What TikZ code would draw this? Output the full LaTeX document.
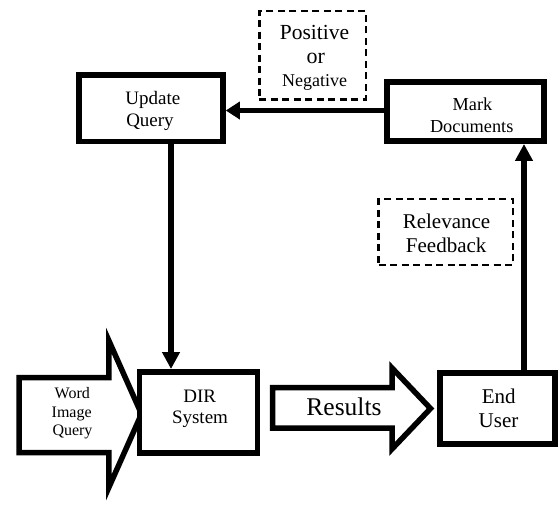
\documentclass[tikz,border=0pt]{standalone}
\usepackage{fontspec}
\setmainfont{Liberation Serif}
\usetikzlibrary{arrows.meta}
\begin{document}
\begin{tikzpicture}[x=1pt,y=-1pt,
  box/.style={draw, line width=5.5pt, fill=white, inner sep=0pt},
  hint/.style={draw, line width=2.5pt, dash pattern=on 7pt off 4.5pt, inner sep=0pt},
  txt/.style={anchor=base, inner sep=0pt},
  flow/.style={line width=5.5pt, -{Triangle[length=17pt,width=17pt]}},
  flowh/.style={line width=5.5pt, -{Triangle[length=14pt,width=17pt]}},
  block/.style={draw, line width=5.5pt, fill=white, line join=miter, miter limit=10},
]
\useasboundingbox (0,0) rectangle (559,504);

% input block arrow (its point tucks under the DIR box)
\draw[block] (19,377.5) -- (108.8,377.5) -- (108.8,340.5) -- (141.5,414)
  -- (108.8,487.5) -- (108.8,452.5) -- (19,452.5) -- cycle;
% results block arrow
\draw[block] (272.5,387.5) -- (392,387.5) -- (392,368) -- (430.5,408.5)
  -- (392,449) -- (392,428) -- (272.5,428) -- cycle;

% process boxes
\node[box, minimum width=144.25pt, minimum height=66.5pt] (uq) at (150.9,108) {};
\node[box, minimum width=157.25pt, minimum height=59.25pt] (md) at (465.4,111.6) {};
\node[box, minimum width=117.75pt, minimum height=81.25pt] (dir) at (198.4,412.4) {};
\node[box, minimum width=115pt, minimum height=71.25pt] (eu) at (497.5,408.4) {};

% annotation boxes
\node[hint, minimum width=106.3pt, minimum height=88.5pt] (pn) at (312.6,55) {};
\node[hint, minimum width=134.3pt, minimum height=65.8pt] (rf) at (445.8,232.1) {};

% labels
\node[txt, font=\fontsize{19}{22}\selectfont] (uq1) at (152.8,104) {Update};
\node[txt, font=\fontsize{19}{22}\selectfont] (uq2) at (150,126) {Query};
\node[txt, font=\fontsize{18.3}{22}\selectfont] (md1) at (472.5,110) {Mark};
\node[txt, font=\fontsize{18.3}{22}\selectfont] (md2) at (471.7,132) {Documents};
\node[txt, font=\fontsize{19}{22}\selectfont] (dir1) at (199.7,402) {DIR};
\node[txt, font=\fontsize{19}{22}\selectfont] (dir2) at (200,423) {System};
\node[txt, font=\fontsize{21}{24}\selectfont] (eu1) at (498.8,403) {End};
\node[txt, font=\fontsize{21}{24}\selectfont] (eu2) at (498.5,427) {User};
\node[txt, font=\fontsize{21.5}{24}\selectfont] (pn1) at (314.5,39) {Positive};
\node[txt, font=\fontsize{22}{24}\selectfont] (pn2) at (315.8,63) {or};
\node[txt, font=\fontsize{18}{22}\selectfont] (pn3) at (314.5,86) {Negative};
\node[txt, font=\fontsize{21}{24}\selectfont] (rf1) at (446.5,228) {Relevance};
\node[txt, font=\fontsize{21}{24}\selectfont] (rf2) at (446.2,252) {Feedback};
\node[txt, font=\fontsize{16}{18}\selectfont] (wq1) at (72.3,398) {Word};
\node[txt, font=\fontsize{16}{18}\selectfont] (wq2) at (71.7,417) {Image};
\node[txt, font=\fontsize{16}{18}\selectfont] (wq3) at (72.5,435) {Query};
\node[txt, font=\fontsize{25.5}{28}\selectfont] (res) at (344,415) {Results};

% connectors
\coordinate (vx1) at (171,0);
\coordinate (vx2) at (524,0);
\coordinate (hy) at (0,110.5);
\draw[flow] (uq.south -| vx1) -- (dir.north -| vx1);
\draw[flow] (eu.north -| vx2) -- (md.south -| vx2);
\draw[flowh] (md.west |- hy) -- (uq.east |- hy);
\end{tikzpicture}
\end{document}
